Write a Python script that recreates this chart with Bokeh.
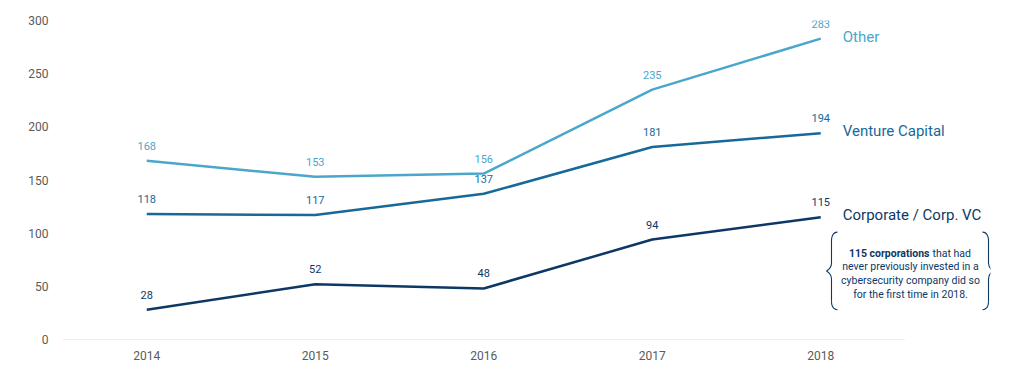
from bokeh.plotting import figure
from bokeh.models import ColumnDataSource, Label, Range1d, FixedTicker
from bokeh.core.properties import value
from bokeh.embed import file_html
from bokeh.resources import INLINE

years = [2014, 2015, 2016, 2017, 2018]
other = [168, 153, 156, 235, 283]
venture = [118, 117, 137, 181, 194]
corporate = [28, 52, 48, 94, 115]
series_names = ["Other", "Venture Capital", "Corporate / Corp. VC"]
colors = ["#4BA6CB", "#17699A", "#0D3866"]
y_ticks = [0, 50, 100, 150, 200, 250, 300]

W, H = 995, 362
left, top, bottom, right = 62, 20, 21, 5
fw = W - left - right
fh = H - top - bottom
ppy = 168.5  # pixels per year
x0 = 2013.5
x1 = x0 + fw / ppy

p = figure(width=W, height=H, output_backend="svg", toolbar_location=None,
           x_range=Range1d(x0, x1), y_range=Range1d(0, 300),
           min_border_left=left, min_border_right=right,
           min_border_top=top, min_border_bottom=bottom)
p.outline_line_color = None
p.grid.visible = False
p.background_fill_color = "white"

FONT = "Roboto"

for ax in (p.xaxis[0], p.yaxis[0]):
    ax.axis_line_color = None
    ax.major_tick_line_color = None
    ax.minor_tick_line_color = None
    ax.major_label_text_font = FONT
    ax.major_label_text_font_size = "12px"
    ax.major_label_text_color = "#5a5a5a"
p.xaxis.ticker = FixedTicker(ticks=years)
p.yaxis.ticker = FixedTicker(ticks=y_ticks)
p.xaxis.major_label_standoff = 5
p.yaxis.major_label_standoff = 8

# baseline
p.segment(x0=[x0], y0=[0], x1=[2018.5], y1=[0], line_color="#dddddd", line_width=1)

for vals, c in zip([other, venture, corporate], colors):
    src = ColumnDataSource(dict(x=years, y=vals, t=[str(v) for v in vals]))
    p.line("x", "y", source=src, line_color=c, line_width=2.5)
    p.text("x", "y", text="t", source=src, text_color=c, text_font=value(FONT),
           text_font_size="11px", text_align="center", text_baseline="bottom",
           y_offset=-11)

# series labels
lab_x = 2018 + 22 / ppy
for name, vals, c in zip(series_names, [other, venture, corporate], colors):
    p.add_layout(Label(x=lab_x, y=vals[-1], text=name, text_color=c,
                       text_font=FONT, text_font_size="15px",
                       text_baseline="middle", y_offset=2))

# annotation box
def xpx(px):
    return x0 + (px - left) / ppy

def ypx(py):
    return 300 * (1 - (py - top) / fh)

ann_color = "#0D3866"
AFS = "10.5px"
cx = xpx(910)
lines = ["never previously invested in a", "cybersecurity company did so",
         "for the first time in 2018."]
p.add_layout(Label(x=xpx(929), y=ypx(254), text="115 corporations", text_color=ann_color,
                   text_font=FONT, text_font_size=AFS, text_font_style="bold",
                   text_align="right", text_baseline="middle"))
p.add_layout(Label(x=xpx(932), y=ypx(254), text="that had", text_color=ann_color,
                   text_font=FONT, text_font_size=AFS,
                   text_align="left", text_baseline="middle"))
for i, t in enumerate(lines):
    p.add_layout(Label(x=cx, y=ypx(268 + 14 * i), text=t, text_color=ann_color,
                       text_font=FONT, text_font_size=AFS,
                       text_align="center", text_baseline="middle"))

# braces (drawn as bezier curves)
def brace(xv, xtip, xcurl, ytop, ymid, ybot):
    bx0, by0, bx1, by1, cx0, cy0, cx1, cy1 = [], [], [], [], [], [], [], []
    segs = [
        ((xcurl, ytop), (xv, ytop + 8), (xv, ytop), (xv, ytop + 8)),
        ((xv, ytop + 8), (xv, ymid - 8), (xv, ytop + 20), (xv, ymid - 20)),
        ((xv, ymid - 8), (xtip, ymid), (xv, ymid - 3), (xtip, ymid)),
        ((xtip, ymid), (xv, ymid + 8), (xtip, ymid), (xv, ymid + 3)),
        ((xv, ymid + 8), (xv, ybot - 8), (xv, ymid + 20), (xv, ybot - 20)),
        ((xv, ybot - 8), (xcurl, ybot), (xv, ybot), (xcurl, ybot)),
    ]
    for (a, b, c0, c1) in segs:
        bx0.append(xpx(a[0])); by0.append(ypx(a[1]))
        bx1.append(xpx(b[0])); by1.append(ypx(b[1]))
        cx0.append(xpx(c0[0])); cy0.append(ypx(c0[1]))
        cx1.append(xpx(c1[0])); cy1.append(ypx(c1[1]))
    p.bezier(x0=bx0, y0=by0, x1=bx1, y1=by1, cx0=cx0, cy0=cy0, cx1=cx1, cy1=cy1,
             line_color=ann_color, line_width=1.1)

brace(831, 826, 837, 233, 272, 311)
brace(988, 993, 982, 233, 272, 311)

open("out.html", "w").write(file_html(p, INLINE))
